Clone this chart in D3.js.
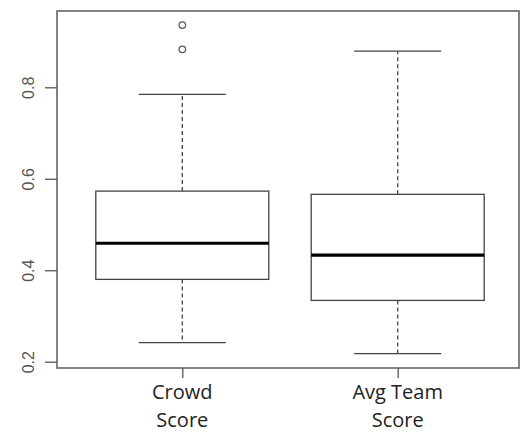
<!DOCTYPE html>
<html><head><meta charset="utf-8">
<script src="https://cdn.jsdelivr.net/npm/d3@7"></script>
<style>body{margin:0;background:#fff}svg{display:block}</style>
</head><body>
<script>
const categories = ["Crowd\nScore", "Avg Team\nScore"];
const lowerWhisker = [0.2415, 0.2175];
const q1 = [0.380, 0.334];
const median = [0.459, 0.433];
const q3 = [0.573, 0.566];
const upperWhisker = [0.7845, 0.879];
const outliers = [[0.883, 0.936], []];
const yTicks = [0.2, 0.4, 0.6, 0.8];

const W = 520, H = 433;
const plot = {left: 57, right: 519, top: 11, bottom: 368};
const svg = d3.select("body").append("svg").attr("width", W).attr("height", H);

const y = d3.scaleLinear().domain([0.2, 0.8]).range([361.7, 87.3]);
const x = d3.scalePoint().domain(categories).range([182.3, 397.7]);
const boxW = 173, capW = 87;

// frame
svg.append("rect").attr("x", plot.left).attr("y", plot.top)
  .attr("width", plot.right - plot.left).attr("height", plot.bottom - plot.top)
  .attr("fill", "none").attr("stroke", "#666").attr("stroke-width", 1.6);

// y axis
const yAxis = svg.append("g").attr("transform", `translate(${plot.left},0)`)
  .call(d3.axisLeft(y).tickValues(yTicks).tickSize(12).tickPadding(0).tickFormat(d3.format(".1f")));
yAxis.select(".domain").remove();
yAxis.selectAll(".tick line").attr("stroke", "#555").attr("stroke-width", 1.3);
yAxis.selectAll(".tick text").attr("x", 0).attr("y", 0).attr("dy", 0)
  .attr("text-anchor", "middle")
  .attr("transform", "translate(-29,0) rotate(-90) translate(0,6)")
  .attr("fill", "#555").style("font-family", "Liberation Sans, Arial, sans-serif").style("font-size", "16px");

// x axis
const xAxis = svg.append("g").attr("transform", `translate(0,${plot.bottom})`)
  .call(d3.axisBottom(x).tickSize(10).tickFormat(""));
xAxis.select(".domain").remove();
xAxis.selectAll(".tick line").attr("stroke", "#555").attr("stroke-width", 1.3);

const labels = svg.append("g");
categories.forEach((c) => {
  const t = labels.append("text").attr("text-anchor", "middle")
    .attr("fill", "#222").style("font-family", "Open Sans, sans-serif").style("font-size", "20px");
  c.split("\n").forEach((line, j) => {
    t.append("tspan").attr("x", x(c)).attr("y", 399 + j * 28).text(line);
  });
});

// boxes
const g = svg.append("g");
categories.forEach((c, i) => {
  const cx = x(c);
  g.append("line").attr("x1", cx).attr("x2", cx).attr("y1", y(q3[i])).attr("y2", y(upperWhisker[i]))
    .attr("stroke", "#444").attr("stroke-width", 1.3).attr("stroke-dasharray", "4,3");
  g.append("line").attr("x1", cx).attr("x2", cx).attr("y1", y(q1[i])).attr("y2", y(lowerWhisker[i]))
    .attr("stroke", "#444").attr("stroke-width", 1.3).attr("stroke-dasharray", "4,3");
  [upperWhisker[i], lowerWhisker[i]].forEach(v => {
    g.append("line").attr("x1", cx - capW / 2).attr("x2", cx + capW / 2).attr("y1", y(v)).attr("y2", y(v))
      .attr("stroke", "#444").attr("stroke-width", 1.3);
  });
  g.append("rect").attr("x", cx - boxW / 2).attr("width", boxW)
    .attr("y", y(q3[i])).attr("height", y(q1[i]) - y(q3[i]))
    .attr("fill", "#fff").attr("stroke", "#444").attr("stroke-width", 1.3);
  g.append("line").attr("x1", cx - boxW / 2).attr("x2", cx + boxW / 2).attr("y1", y(median[i])).attr("y2", y(median[i]))
    .attr("stroke", "#000").attr("stroke-width", 3.2);
  outliers[i].forEach(v => {
    g.append("circle").attr("cx", cx).attr("cy", y(v)).attr("r", 3.3)
      .attr("fill", "none").attr("stroke", "#555").attr("stroke-width", 1.2);
  });
});
</script>
</body></html>
